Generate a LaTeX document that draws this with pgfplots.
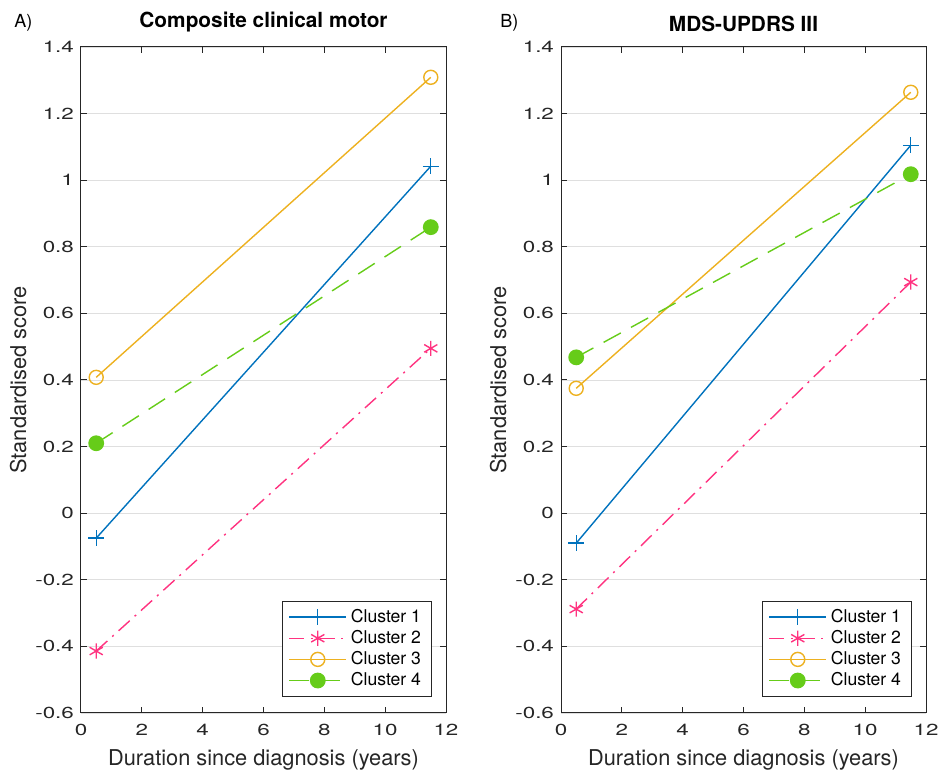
\documentclass[border=0pt]{standalone}
\usepackage{fontspec}
\setmainfont{TeX Gyre Heros}
\newfontfamily\tickfont{TeX Gyre Heros}[FakeStretch=1.4]
\usepackage{pgfplots}
\pgfplotsset{compat=1.18}

\definecolor{cblue}{rgb}{0,0.447,0.741}
\definecolor{cpink}{rgb}{1,0.2,0.5}
\definecolor{corange}{rgb}{0.929,0.694,0.125}
\definecolor{cgreen}{rgb}{0.4,0.8,0.1}
\definecolor{axgray}{gray}{0.15}

\pgfplotsset{
  panel/.style={
    scale only axis,
    width=182.5pt, height=333pt,
    xmin=0, xmax=12, ymin=-0.6, ymax=1.4,
    xtick={0,2,...,12},
    ytick={-0.6,-0.4,...,1.41},
    yticklabel style={/pgf/number format/fixed},
    /pgf/number format/assume math mode=true,
    ymajorgrids,
    grid style={gray!25, line width=0.4pt},
    axis line style={axgray, line width=0.5pt},
    tick style={axgray, line width=0.5pt},
    major tick length=3pt,
    tick align=inside,
    ticklabel style={font=\tickfont\fontsize{8}{9}\selectfont, text=axgray},
    xticklabel style={yshift=-2pt},
    label style={font=\fontsize{10.9}{12}\selectfont, text=axgray},
    ylabel shift=-2.5pt,
    title style={font=\fontsize{10.4}{12}\selectfont\bfseries, yshift=-2pt},
    xlabel={Duration since diagnosis (years)},
    ylabel={Standardised score},
    legend style={at={(0.96,0.024)}, anchor=south east,
      font=\fontsize{8.8}{10}\selectfont, draw=axgray,
      row sep=-1.5pt, inner xsep=3pt, inner ysep=2pt},
    legend cell align=left,
    legend image code/.code={
      \draw[line width=0.7pt, mark repeat=2, mark phase=2] plot coordinates {(0cm,0cm) (0.5cm,0cm) (1cm,0cm)};},
    every axis plot/.append style={line width=0.7pt},
  },
  c1/.style={cblue, solid, mark=+, mark size=4pt, mark options={solid}},
  c2/.style={cpink, dash pattern=on 7.5pt off 3.3pt on 1pt off 3.3pt, mark=asterisk, mark size=3.8pt, mark options={solid}},
  c3/.style={corange, solid, mark=o, mark size=3.5pt, mark options={solid}},
  c4/.style={cgreen, dash pattern=on 9.8pt off 5.8pt, mark=*, mark size=3.6pt, mark options={solid, fill=cgreen}},
}

\begin{document}
\begin{tikzpicture}
\useasboundingbox (-40.5pt,-31.5pt) rectangle (428.5pt,356.5pt);

\begin{axis}[panel, at={(0,0)}, anchor=south west, title={Composite clinical motor}]
\addplot[c1] coordinates {(0.5,-0.075) (11.5,1.042)};
\addplot[c2] coordinates {(0.5,-0.414) (11.5,0.495)};
\addplot[c3] coordinates {(0.5,0.408) (11.5,1.309)};
\addplot[c4] coordinates {(0.5,0.210) (11.5,0.859)};
\legend{Cluster 1, Cluster 2, Cluster 3, Cluster 4}
\end{axis}

\begin{axis}[panel, at={(240pt,0)}, anchor=south west, title={MDS-UPDRS III}]
\addplot[c1] coordinates {(0.5,-0.090) (11.5,1.105)};
\addplot[c2] coordinates {(0.5,-0.288) (11.5,0.694)};
\addplot[c3] coordinates {(0.5,0.375) (11.5,1.264)};
\addplot[c4] coordinates {(0.5,0.468) (11.5,1.018)};
\legend{Cluster 1, Cluster 2, Cluster 3, Cluster 4}
\end{axis}

\node[anchor=base west, font=\fontsize{9}{10}\selectfont, inner sep=0pt] at (-33.5pt,342.5pt) {A)};
\node[anchor=base west, font=\fontsize{9}{10}\selectfont, inner sep=0pt] at (209.5pt,342.5pt) {B)};
\end{tikzpicture}
\end{document}
